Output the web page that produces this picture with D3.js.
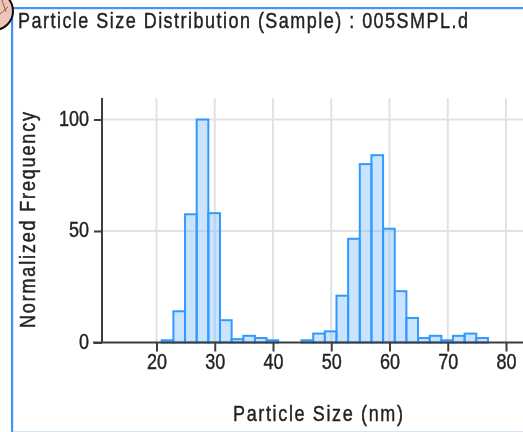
<!DOCTYPE html>
<html>
<head>
<meta charset="utf-8">
<script src="https://cdn.jsdelivr.net/npm/d3@7"></script>
<style>
	html, body { margin: 0; padding: 0; background: #fff; }
	svg { display: block; }
	text { font-family: "Liberation Sans", sans-serif; fill: #222; stroke: #222; stroke-width: 0.35px; }
</style>
</head>
<body>
<svg id="chart" width="523" height="432"></svg>
<script>
const binStarts = [21, 23, 25, 27, 29, 31, 33, 35, 37, 39, 45, 47, 49, 51, 53, 55, 57, 59, 61, 63, 65, 67, 69, 71, 73, 75];
const frequencies = [1, 14, 57.5, 100, 58, 10, 1.5, 3, 2, 1, 1, 4, 5, 21, 46.5, 80, 84, 51, 23, 11, 2, 3, 1, 3, 4, 2];
const xTicks = [20, 30, 40, 50, 60, 70, 80];
const yTicks = [0, 50, 100];
const binWidth = 2;

const svg = d3.select('#chart');
const xScale = d3.scaleLinear().domain([20, 80]).range([156.5, 506]);
const yScale = d3.scaleLinear().domain([0, 100]).range([342.5, 119.5]);
const plotLeft = 102, plotRight = 523, plotTop = 98;
const textStretch = 1.2; // reference glyphs are tall and narrow

// the reference is a slightly soft screenshot
svg.append('defs').append('filter').attr('id', 'soft')
	.append('feGaussianBlur').attr('stdDeviation', 0.45);
const root = svg.append('g').attr('filter', 'url(#soft)');

// window frame
root.append('path')
	.attr('d', 'M13.5,432V9.5H523')
	.style('fill', 'none')
	.style('stroke', '#d5e9fb')
	.style('stroke-width', 1);
root.append('path')
	.attr('d', 'M12,432V8H523')
	.style('fill', 'none')
	.style('stroke', '#3f97f5')
	.style('stroke-width', 2);
root.append('line')
	.attr('x1', 13).attr('x2', 523).attr('y1', 431.5).attr('y2', 431.5)
	.style('stroke', '#cfe6fa');

// corner badge
root.append('circle')
	.attr('cx', -6).attr('cy', 11).attr('r', 19)
	.style('fill', '#efc4b8')
	.style('stroke', '#111')
	.style('stroke-width', 2);
root.append('path')
	.attr('d', 'M0,14L8,7M2,0L6,12')
	.style('fill', 'none')
	.style('stroke', '#6a4a44')
	.style('stroke-width', 0.8);

// grid
root.append('g').selectAll('line').data(xTicks).join('line')
	.attr('x1', d => xScale(d)).attr('x2', d => xScale(d))
	.attr('y1', plotTop).attr('y2', yScale(0))
	.style('stroke', '#e2e2e2').style('stroke-width', 2);
root.append('g').selectAll('line').data(yTicks.slice(1)).join('line')
	.attr('x1', plotLeft).attr('x2', plotRight)
	.attr('y1', d => yScale(d)).attr('y2', d => yScale(d))
	.style('stroke', '#e2e2e2').style('stroke-width', 2);

// bars
root.append('g').selectAll('rect').data(binStarts).join('rect')
	.attr('x', d => xScale(d - 0.1))
	.attr('width', xScale(binWidth) - xScale(0))
	.attr('y', (d, i) => yScale(frequencies[i]))
	.attr('height', (d, i) => yScale(0) - yScale(frequencies[i]))
	.style('fill', 'rgba(130,190,250,0.42)')
	.style('stroke', '#3399ff')
	.style('stroke-width', 2);

// axes
const xAxis = root.append('g')
	.attr('transform', 'translate(0,' + yScale(0) + ')')
	.call(d3.axisBottom(xScale).tickValues(xTicks).tickSize(9).tickSizeOuter(0));
const yAxis = root.append('g')
	.attr('transform', 'translate(' + plotLeft + ',0)')
	.call(d3.axisLeft(yScale).tickValues(yTicks).tickSize(8).tickSizeOuter(0));
xAxis.select('.domain').attr('d', 'M' + (plotLeft - 9) + ',0H' + plotRight);
yAxis.select('.domain').attr('d', 'M0,' + plotTop + 'V' + yScale(0));
root.selectAll('.domain, .tick line').style('stroke', '#3c3c3c').style('stroke-width', 2);
root.selectAll('.tick text')
	.style('font-size', '18px')
	.style('font-family', '"Liberation Sans", sans-serif')
	.style('fill', '#222')
	.attr('dy', 0)
	.attr('transform', 'scale(1,' + textStretch + ')');
xAxis.selectAll('.tick text').attr('y', 27 / textStretch);
yAxis.selectAll('.tick text').attr('x', -13).attr('y', 5.5 / textStretch);

// labels
root.append('text')
	.attr('transform', 'translate(18,28) scale(1,' + textStretch + ')')
	.attr('textLength', 450)
	.style('font-size', '18px')
	.text('Particle Size Distribution (Sample) : 005SMPL.d');
root.append('text')
	.attr('transform', 'translate(233,421) scale(1,' + textStretch + ')')
	.attr('textLength', 170)
	.style('font-size', '18px')
	.text('Particle Size (nm)');
root.append('text')
	.attr('transform', 'translate(35,328) rotate(-90) scale(1,' + textStretch + ')')
	.attr('textLength', 216)
	.style('font-size', '18px')
	.text('Normalized Frequency');
</script>
</body>
</html>
